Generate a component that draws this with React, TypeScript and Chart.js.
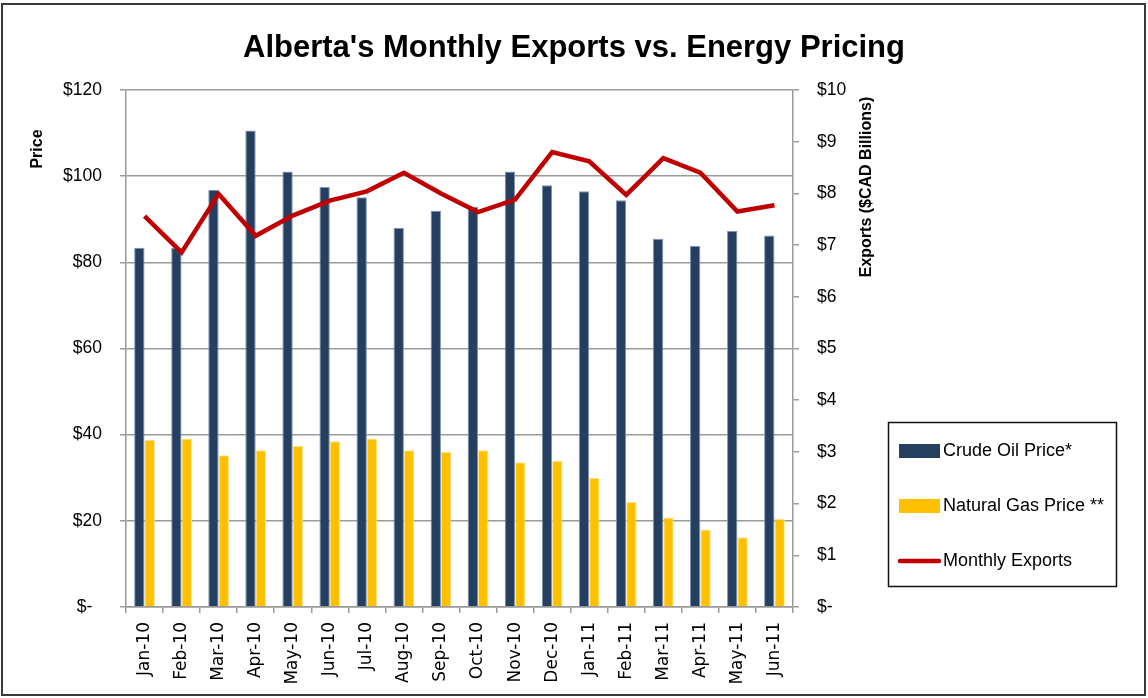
import React, { useEffect, useRef } from 'react';
import { Chart, registerables } from 'chart.js';

Chart.register(...registerables);

const TITLE = "Alberta's Monthly Exports vs. Energy Pricing";
const LEFT_AXIS_TITLE = 'Price';
const RIGHT_AXIS_TITLE = 'Exports ($CAD Billions)';

const months = [
  'Jan-10', 'Feb-10', 'Mar-10', 'Apr-10', 'May-10', 'Jun-10', 'Jul-10', 'Aug-10', 'Sep-10',
  'Oct-10', 'Nov-10', 'Dec-10', 'Jan-11', 'Feb-11', 'Mar-11', 'Apr-11', 'May-11', 'Jun-11',
];

const crudeOilPrice = [
  83.4, 83.3, 96.8, 110.6, 101.1, 97.5, 95.1, 88.0, 92.0,
  92.9, 101.1, 97.9, 96.5, 94.4, 85.5, 83.8, 87.3, 86.2,
];

const naturalGasPrice = [
  38.8, 39.1, 35.2, 36.4, 37.4, 38.5, 39.1, 36.4, 36.0,
  36.4, 33.6, 33.9, 30.0, 24.4, 20.8, 18.0, 16.2, 20.5,
];

const monthlyExports = [
  7.56, 6.86, 7.99, 7.18, 7.57, 7.86, 8.04, 8.40, 8.00,
  7.64, 7.88, 8.80, 8.62, 7.97, 8.68, 8.40, 7.65, 7.77,
];

const legendLabels = ['Crude Oil Price*', 'Natural Gas Price **', 'Monthly Exports'];

const priceAxis = { min: 0, max: 120, step: 20 };
const exportAxis = { min: 0, max: 10, step: 1 };

const CRUDE_COLOR = '#253f61';
const GAS_COLOR = '#ffc000';
const LINE_COLOR = '#c00000';
const GRID_COLOR = '#9a9a9a';
const SANS = '"Liberation Sans", Arial, sans-serif';

const extrasPlugin = {
  id: 'extras',
  afterDraw(chart: any) {
    const ctx = chart.ctx as CanvasRenderingContext2D;
    ctx.save();
    // outer frame
    ctx.strokeStyle = '#3a3a3a';
    ctx.lineWidth = 2;
    ctx.strokeRect(2, 4, 1143, 691);

    // title
    ctx.fillStyle = '#000';
    ctx.font = 'bold 31px ' + SANS;
    ctx.textAlign = 'center';
    ctx.textBaseline = 'alphabetic';
    ctx.fillText(TITLE, 574, 57);

    // axis titles
    ctx.font = 'bold 16px ' + SANS;
    ctx.textBaseline = 'middle';
    ctx.save();
    ctx.translate(38, 149);
    ctx.rotate(-Math.PI / 2);
    ctx.fillText(LEFT_AXIS_TITLE, 0, 0);
    ctx.restore();
    ctx.save();
    ctx.translate(867, 187);
    ctx.rotate(-Math.PI / 2);
    ctx.fillText(RIGHT_AXIS_TITLE, 0, 0);
    ctx.restore();

    // legend
    ctx.strokeStyle = '#111';
    ctx.lineWidth = 1.5;
    ctx.strokeRect(888.5, 422.5, 228, 164);
    ctx.fillStyle = CRUDE_COLOR;
    ctx.fillRect(899, 444, 41, 14);
    ctx.fillStyle = GAS_COLOR;
    ctx.fillRect(899, 499, 41, 14);
    ctx.strokeStyle = LINE_COLOR;
    ctx.lineWidth = 4.5;
    ctx.lineCap = 'round';
    ctx.beginPath();
    ctx.moveTo(900, 561);
    ctx.lineTo(939, 561);
    ctx.stroke();
    ctx.fillStyle = '#000';
    ctx.font = '18px ' + SANS;
    ctx.textAlign = 'left';
    ctx.textBaseline = 'middle';
    ctx.fillText(legendLabels[0], 943, 451);
    ctx.fillText(legendLabels[1], 943, 506);
    ctx.fillText(legendLabels[2], 943, 561);
    ctx.restore();
  },
};

export default function App() {
  const canvasRef = useRef<HTMLCanvasElement | null>(null);

  useEffect(() => {
    const canvas = canvasRef.current;
    if (!canvas) return;
    const chart = new Chart(canvas, {
      type: 'bar',
      data: {
        labels: months,
        datasets: [
          {
            type: 'line',
            label: legendLabels[2],
            data: monthlyExports,
            yAxisID: 'y1',
            borderColor: LINE_COLOR,
            backgroundColor: LINE_COLOR,
            borderWidth: 4.5,
            pointRadius: 0,
            tension: 0,
            order: 0,
          } as any,
          {
            type: 'bar',
            label: legendLabels[0],
            data: crudeOilPrice,
            yAxisID: 'y',
            backgroundColor: CRUDE_COLOR,
            borderColor: '#8093ad',
            borderWidth: 1,
            categoryPercentage: 0.56,
            barPercentage: 1,
            order: 1,
          },
          {
            type: 'bar',
            label: legendLabels[1],
            data: naturalGasPrice,
            yAxisID: 'y',
            backgroundColor: GAS_COLOR,
            borderColor: '#ffe38f',
            borderWidth: 1,
            categoryPercentage: 0.56,
            barPercentage: 1,
            order: 2,
          },
        ],
      },
      options: {
        responsive: false,
        animation: false,
        devicePixelRatio: 1,
        layout: { padding: { top: 90, left: 0, right: 0, bottom: 0 } },
        plugins: {
          legend: { display: false },
          title: { display: false },
          tooltip: { enabled: false },
        },
        scales: {
          x: {
            offset: true,
            grid: {
              display: true,
              drawOnChartArea: false,
              drawTicks: true,
              tickLength: 6,
              color: GRID_COLOR,
              lineWidth: 1.5,
              offset: true,
            },
            border: { display: true, color: GRID_COLOR, width: 1.5 },
            ticks: {
              minRotation: 90,
              maxRotation: 90,
              autoSkip: false,
              padding: 9,
              color: '#000',
              font: { family: '"DejaVu Sans", sans-serif', size: 17 },
            },
            afterFit(scale: any) {
              scale.height = 91;
            },
          },
          y: {
            position: 'left',
            min: priceAxis.min,
            max: priceAxis.max,
            ticks: {
              stepSize: priceAxis.step,
              padding: 18,
              color: '#000',
              font: { family: SANS, size: 17.5 },
              callback: (v: any) => (Number(v) === 0 ? '$-  ' : '$' + v),
            },
            grid: {
              color: GRID_COLOR,
              lineWidth: 1.5,
              tickLength: 6,
              drawTicks: true,
            },
            border: { display: true, color: GRID_COLOR, width: 1.5 },
            afterFit(scale: any) {
              scale.width = 126;
            },
          },
          y1: {
            position: 'right',
            min: exportAxis.min,
            max: exportAxis.max,
            ticks: {
              stepSize: exportAxis.step,
              padding: 18,
              color: '#000',
              font: { family: SANS, size: 17.5 },
              callback: (v: any) => (Number(v) === 0 ? '$-' : '$' + v),
            },
            grid: {
              drawOnChartArea: false,
              color: GRID_COLOR,
              lineWidth: 1.5,
              tickLength: 6,
              drawTicks: true,
            },
            border: { display: true, color: GRID_COLOR, width: 1.5 },
            afterFit(scale: any) {
              scale.width = 1148 - 793;
            },
          },
        },
      },
      plugins: [extrasPlugin],
    });
    return () => chart.destroy();
  }, []);

  return (
    <div style={{ position: 'fixed', left: 0, top: 0, width: 1148, height: 698, background: '#fff' }}>
      <canvas ref={canvasRef} width={1148} height={698} style={{ display: 'block', width: 1148, height: 698 }} />
    </div>
  );
}
